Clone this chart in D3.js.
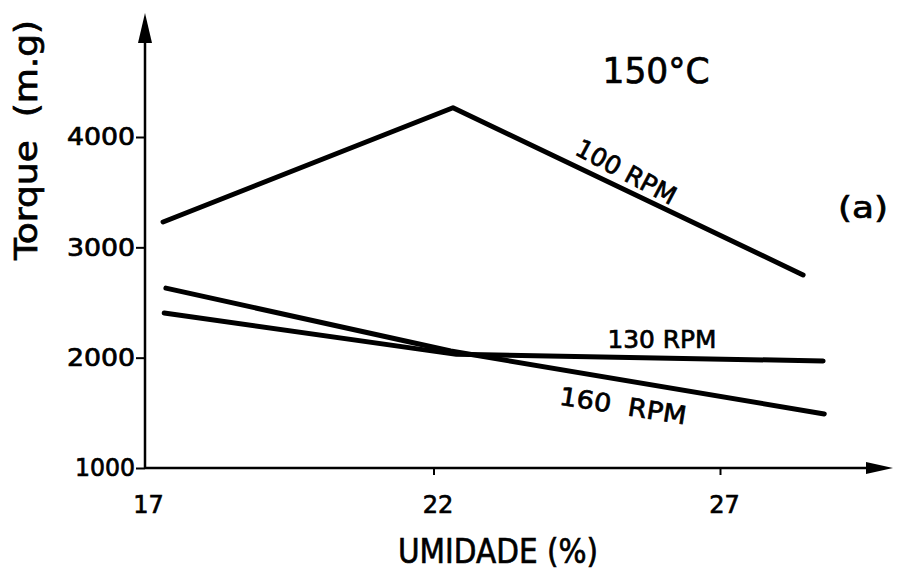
<!DOCTYPE html>
<html>
<head>
<meta charset="utf-8">
<script src="https://cdn.jsdelivr.net/npm/d3@7"></script>
<style>
  body { margin: 0; background: #fff; }
  text { font-family: "DejaVu Sans", sans-serif; fill: #000; stroke: #000; stroke-width: 0.7px; white-space: pre; }
</style>
</head>
<body>
<svg id="chart"></svg>
<script>
// tick values
var umidadeTicks = [17, 22, 27];
var torqueTicks = [1000, 2000, 3000, 4000];

// series (umidade %, torque m.g)
var rpm100X = [17.28, 22.34, 28.45];
var rpm100Y = [3230, 4265, 2750];
var rpm130X = [17.3, 22.4, 28.8];
var rpm130Y = [2405, 2030, 1970];
var rpm160X = [17.33, 22.3, 28.82];
var rpm160Y = [2630, 2060, 1490];

var seriesNames = ["100 RPM", "130 RPM", "160 RPM"];

var width = 906, height = 577;

document.addEventListener("DOMContentLoaded", function () {
  var svg = d3.select("#chart").attr("width", width).attr("height", height);

  var x = d3.scaleLinear().domain([17, 27]).range([147, 720]);
  var y = d3.scaleLinear().domain([1000, 4000]).range([468, 137]);

  var x0 = 145, y0 = y(1000);

  // axis lines with arrow heads
  svg.append("line")
    .attr("x1", x0).attr("y1", y0).attr("x2", x0).attr("y2", 30)
    .attr("stroke", "#000").attr("stroke-width", 2.5);
  svg.append("path")
    .attr("d", `M${x0},13 L${x0 - 7},43 L${x0 + 7},43 Z`)
    .attr("fill", "#000");
  svg.append("line")
    .attr("x1", x0).attr("y1", y0).attr("x2", 880).attr("y2", y0)
    .attr("stroke", "#000").attr("stroke-width", 2.5);
  svg.append("path")
    .attr("d", `M893,${y0} L866,${y0 - 6} L866,${y0 + 6} Z`)
    .attr("fill", "#000");

  // y axis
  var yAxis = svg.append("g")
    .attr("transform", `translate(${x0},0)`)
    .call(d3.axisLeft(y).tickValues(torqueTicks).tickSize(9).tickPadding(1).tickFormat(d3.format("d")));
  yAxis.select(".domain").remove();
  yAxis.selectAll("line").attr("stroke-width", 2);
  yAxis.selectAll("text").style("font-size", "24px").attr("font-family", null)
    .attr("textLength", (d) => (d == 1000 ? 60 : 68))
    .attr("lengthAdjust", "spacingAndGlyphs");

  // x axis
  var xAxis = svg.append("g")
    .attr("transform", `translate(0,${y0})`)
    .call(d3.axisBottom(x).tickValues(umidadeTicks).tickSize(7).tickPadding(19));
  xAxis.select(".domain").remove();
  xAxis.selectAll("line").attr("stroke-width", 2)
    .attr("opacity", (d) => (d == 17 ? 0 : 1));
  xAxis.selectAll("text").style("font-size", "24px").attr("font-family", null)
    .attr("dx", (d) => (d == 17 ? 1 : 4)).attr("dy", 0).attr("y", 45);

  // series lines
  var line = d3.line().x((d) => x(d[0])).y((d) => y(d[1]));
  var series = [
    d3.zip(rpm100X, rpm100Y),
    d3.zip(rpm130X, rpm130Y),
    d3.zip(rpm160X, rpm160Y),
  ];
  svg.append("g").selectAll("path")
    .data(series)
    .enter()
    .append("path")
    .attr("d", line)
    .attr("fill", "none")
    .attr("stroke", "#000")
    .attr("stroke-width", 5)
    .attr("stroke-linecap", "round")
    .attr("stroke-linejoin", "round");

  // labels on the lines
  var labels = [
    { t: seriesNames[0], cx: 626, cy: 172, a: 28, w: 110 },
    { t: seriesNames[1], cx: 662, cy: 339, a: 0, w: 109 },
    { t: seriesNames[2], cx: 623, cy: 406, a: 9, w: 128 },
  ];
  svg.append("g").selectAll("text")
    .data(labels)
    .enter()
    .append("text")
    .attr("transform", (d) => `translate(${d.cx},${d.cy}) rotate(${d.a})`)
    .attr("text-anchor", "middle")
    .attr("dominant-baseline", "central")
    .attr("textLength", (d) => d.w)
    .attr("lengthAdjust", "spacingAndGlyphs")
    .style("font-size", "25px")
    .text((d) => (d.t == "160 RPM" ? "160  RPM" : d.t));

  // titles
  svg.append("text")
    .attr("x", 498).attr("y", 563)
    .attr("text-anchor", "middle")
    .attr("textLength", 200)
    .attr("lengthAdjust", "spacingAndGlyphs")
    .style("font-size", "34px")
    .text("UMIDADE (%)");

  svg.append("text")
    .attr("transform", "translate(37,140) rotate(-90)")
    .attr("text-anchor", "middle")
    .attr("textLength", 240)
    .attr("lengthAdjust", "spacingAndGlyphs")
    .style("font-size", "32px")
    .text("Torque  (m.g)");

  svg.append("text")
    .attr("x", 656).attr("y", 83)
    .attr("text-anchor", "middle")
    .attr("textLength", 107)
    .attr("lengthAdjust", "spacingAndGlyphs")
    .style("font-size", "35px")
    .text("150°C");

  svg.append("text")
    .attr("x", 863).attr("y", 218)
    .attr("text-anchor", "middle")
    .attr("textLength", 50)
    .attr("lengthAdjust", "spacingAndGlyphs")
    .style("font-size", "30px")
    .text("(a)");
});
</script>
</body>
</html>
